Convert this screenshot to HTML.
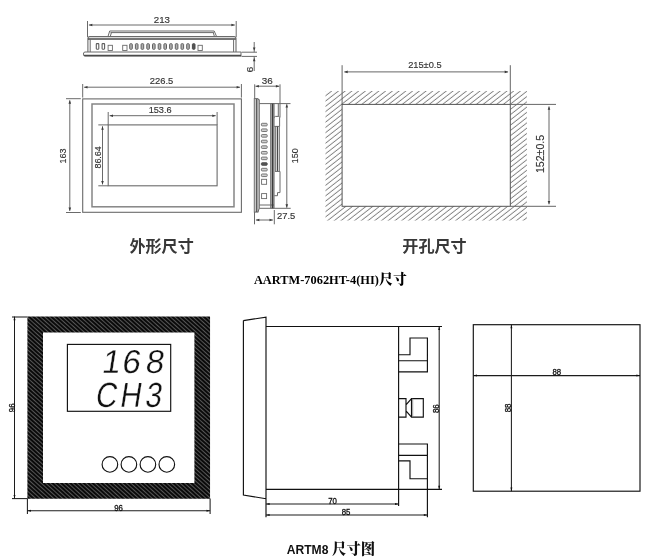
<!DOCTYPE html>
<html lang="zh-CN"><head><meta charset="utf-8"><title>AARTM-7062HT-4(HI)尺寸 / ARTM8 尺寸图</title>
<style>
html,body{margin:0;padding:0;background:#fff;}
body{width:647px;height:560px;overflow:hidden;}
svg{display:block;will-change:transform;opacity:0.999;}
</style></head><body>
<svg width="647" height="560" viewBox="0 0 647 560">
<defs>
<pattern id="hatch" width="4.15" height="4.15" patternUnits="userSpaceOnUse" patternTransform="rotate(-38)">
<line x1="0" y1="2" x2="4.15" y2="2" stroke="#6e6e6e" stroke-width="0.8"/>
</pattern>
<pattern id="fr" width="3" height="3" patternUnits="userSpaceOnUse" patternTransform="rotate(42)">
<rect width="3" height="3" fill="#0a0a0a"/>
<line x1="0" y1="1.5" x2="3" y2="1.5" stroke="#8a8a8a" stroke-width="0.6"/>
</pattern>
<clipPath id="cut"><path clip-rule="evenodd" d="M325.5 91.1H526.9V220.5H325.5Z M342.1 104.4V206.3H510.3V104.4Z"/></clipPath>
</defs>
<rect width="647" height="560" fill="#fff"/>

<g id="topview" fill="none">
<line x1="87.5" y1="21" x2="87.5" y2="37" stroke="#6a6a6a" stroke-width="1" />
<line x1="236.2" y1="21" x2="236.2" y2="37" stroke="#6a6a6a" stroke-width="1" />
<line x1="88.9" y1="25" x2="234.79999999999998" y2="25" stroke="#6a6a6a" stroke-width="1" />
<polygon points="88.9,25.0 92.3,23.7 92.3,26.3" fill="#3a3a3a"/>
<polygon points="234.8,25.0 231.4,23.7 231.4,26.3" fill="#3a3a3a"/>
<text x="153.75" y="23.3" font-size="9.6" fill="#333" stroke="#333" stroke-width="0.15" textLength="16.20" lengthAdjust="spacingAndGlyphs" font-family='"Liberation Sans", sans-serif'>213</text>
<path d="M107.9 36.8L109.7 31H214.2L216.7 36.8" stroke="#6a6a6a" stroke-width="1"/>
<line x1="110.5" y1="32.6" x2="213.8" y2="32.6" stroke="#6a6a6a" stroke-width="1" />
<line x1="111.4" y1="32.6" x2="110.2" y2="36.8" stroke="#6a6a6a" stroke-width="1" />
<line x1="213.3" y1="32.6" x2="214.5" y2="36.8" stroke="#6a6a6a" stroke-width="1" />
<path d="M87.9 52V38.6Q87.9 36.6 89.9 36.6H234Q236 36.6 236 38.6V52" stroke="#6a6a6a" stroke-width="1.1"/>
<line x1="88" y1="39" x2="235.8" y2="39" stroke="#4a4a4a" stroke-width="1.3" />
<line x1="90.2" y1="39" x2="90.2" y2="52" stroke="#6a6a6a" stroke-width="1" />
<line x1="233.6" y1="39" x2="233.6" y2="52" stroke="#6a6a6a" stroke-width="1" />
<path d="M85 52H241V56.2H85Q83.4 56.2 83.4 54.1Q83.4 52 85 52Z" stroke="#6a6a6a" stroke-width="1"/>
<line x1="84" y1="55.4" x2="241" y2="55.4" stroke="#4a4a4a" stroke-width="1.2" />
<rect x="96.3" y="43.6" width="2.5" height="5.6" fill="none" stroke="#5e5e5e" stroke-width="1.1" rx="0.6"/>
<rect x="102.1" y="43.6" width="2.5" height="5.6" fill="none" stroke="#5e5e5e" stroke-width="1.1" rx="0.6"/>
<rect x="108.1" y="45.3" width="4.3" height="5.2" fill="none" stroke="#6a6a6a" stroke-width="0.9"/>
<rect x="122.7" y="45.3" width="4.3" height="5.2" fill="none" stroke="#6a6a6a" stroke-width="0.9"/>
<rect x="198" y="45.3" width="4.3" height="5.2" fill="none" stroke="#6a6a6a" stroke-width="0.9"/>
<rect x="129.7" y="43.7" width="2.6" height="5.6" fill="#b0b0b0" stroke="#606060" stroke-width="1.0" rx="0.8"/>
<rect x="135.39999999999998" y="43.7" width="2.6" height="5.6" fill="#b0b0b0" stroke="#606060" stroke-width="1.0" rx="0.8"/>
<rect x="141.09999999999997" y="43.7" width="2.6" height="5.6" fill="#b0b0b0" stroke="#606060" stroke-width="1.0" rx="0.8"/>
<rect x="146.79999999999995" y="43.7" width="2.6" height="5.6" fill="#b0b0b0" stroke="#606060" stroke-width="1.0" rx="0.8"/>
<rect x="152.49999999999994" y="43.7" width="2.6" height="5.6" fill="#b0b0b0" stroke="#606060" stroke-width="1.0" rx="0.8"/>
<rect x="158.19999999999993" y="43.7" width="2.6" height="5.6" fill="#b0b0b0" stroke="#606060" stroke-width="1.0" rx="0.8"/>
<rect x="163.89999999999992" y="43.7" width="2.6" height="5.6" fill="#b0b0b0" stroke="#606060" stroke-width="1.0" rx="0.8"/>
<rect x="169.5999999999999" y="43.7" width="2.6" height="5.6" fill="#b0b0b0" stroke="#606060" stroke-width="1.0" rx="0.8"/>
<rect x="175.2999999999999" y="43.7" width="2.6" height="5.6" fill="#b0b0b0" stroke="#606060" stroke-width="1.0" rx="0.8"/>
<rect x="180.9999999999999" y="43.7" width="2.6" height="5.6" fill="#b0b0b0" stroke="#606060" stroke-width="1.0" rx="0.8"/>
<rect x="186.69999999999987" y="43.7" width="2.6" height="5.6" fill="#b0b0b0" stroke="#606060" stroke-width="1.0" rx="0.8"/>
<rect x="192.39999999999986" y="43.7" width="2.6" height="5.6" fill="#555" stroke="#4a4a4a" stroke-width="1.0" rx="0.8"/>
<line x1="241.5" y1="52.2" x2="257" y2="52.2" stroke="#6a6a6a" stroke-width="1" />
<line x1="241.5" y1="56.4" x2="257" y2="56.4" stroke="#6a6a6a" stroke-width="1" />
<line x1="254.2" y1="42" x2="254.2" y2="52.2" stroke="#6a6a6a" stroke-width="1" />
<polygon points="254.2,50.8 252.9,47.4 255.5,47.4" fill="#3a3a3a"/>
<line x1="254.2" y1="56.4" x2="254.2" y2="71" stroke="#6a6a6a" stroke-width="1" />
<polygon points="254.2,57.8 252.9,61.2 255.5,61.2" fill="#3a3a3a"/>
<text transform="translate(253.0 69.6) rotate(-90)" x="-2.90" y="0" font-size="9.6" fill="#333" stroke="#333" stroke-width="0.15" textLength="5.80" lengthAdjust="spacingAndGlyphs" font-family='"Liberation Sans", sans-serif'>6</text>
</g>
<g id="front" fill="none">
<rect x="82.7" y="98.9" width="158.7" height="113.4" fill="none" stroke="#6a6a6a" stroke-width="1.1"/>
<rect x="92.0" y="104" width="142.0" height="102.8" fill="none" stroke="#858585" stroke-width="1.5"/>
<rect x="108.2" y="124.9" width="108.9" height="60.9" fill="none" stroke="#6a6a6a" stroke-width="1.1"/>
<line x1="82.7" y1="84" x2="82.7" y2="97.6" stroke="#6a6a6a" stroke-width="1" />
<line x1="241.4" y1="84" x2="241.4" y2="97.6" stroke="#6a6a6a" stroke-width="1" />
<line x1="84.10000000000001" y1="87.2" x2="240.0" y2="87.2" stroke="#6a6a6a" stroke-width="1" />
<polygon points="84.1,87.2 87.5,85.9 87.5,88.5" fill="#3a3a3a"/>
<polygon points="240.0,87.2 236.6,85.9 236.6,88.5" fill="#3a3a3a"/>
<text x="149.85" y="84.3" font-size="9.6" fill="#333" stroke="#333" stroke-width="0.15" textLength="23.50" lengthAdjust="spacingAndGlyphs" font-family='"Liberation Sans", sans-serif'>226.5</text>
<line x1="108.2" y1="112" x2="108.2" y2="124.9" stroke="#6a6a6a" stroke-width="1" />
<line x1="217.1" y1="112" x2="217.1" y2="124.9" stroke="#6a6a6a" stroke-width="1" />
<line x1="109.60000000000001" y1="115.7" x2="215.7" y2="115.7" stroke="#6a6a6a" stroke-width="1" />
<polygon points="109.6,115.7 113.0,114.4 113.0,117.0" fill="#3a3a3a"/>
<polygon points="215.7,115.7 212.3,114.4 212.3,117.0" fill="#3a3a3a"/>
<text x="148.65" y="112.7" font-size="9.6" fill="#333" stroke="#333" stroke-width="0.15" textLength="23.00" lengthAdjust="spacingAndGlyphs" font-family='"Liberation Sans", sans-serif'>153.6</text>
<line x1="66" y1="98.7" x2="80.8" y2="98.7" stroke="#6a6a6a" stroke-width="1" />
<line x1="66" y1="212.5" x2="80.8" y2="212.5" stroke="#6a6a6a" stroke-width="1" />
<line x1="69.8" y1="100.30000000000001" x2="69.8" y2="210.9" stroke="#6a6a6a" stroke-width="1" />
<polygon points="69.8,100.3 68.5,103.7 71.1,103.7" fill="#3a3a3a"/>
<polygon points="69.8,210.9 68.5,207.5 71.1,207.5" fill="#3a3a3a"/>
<text transform="translate(65.8 156.1) rotate(-90)" x="-7.45" y="0" font-size="9.6" fill="#333" stroke="#333" stroke-width="0.15" textLength="14.90" lengthAdjust="spacingAndGlyphs" font-family='"Liberation Sans", sans-serif'>163</text>
<line x1="98.3" y1="124.9" x2="108.2" y2="124.9" stroke="#6a6a6a" stroke-width="1" />
<line x1="98.3" y1="185.8" x2="108.2" y2="185.8" stroke="#6a6a6a" stroke-width="1" />
<line x1="102.5" y1="126.30000000000001" x2="102.5" y2="184.4" stroke="#6a6a6a" stroke-width="1" />
<polygon points="102.5,126.3 101.2,129.7 103.8,129.7" fill="#3a3a3a"/>
<polygon points="102.5,184.4 101.2,181.0 103.8,181.0" fill="#3a3a3a"/>
<text transform="translate(101.0 157.4) rotate(-90)" x="-11.20" y="0" font-size="9.6" fill="#333" stroke="#333" stroke-width="0.15" textLength="22.40" lengthAdjust="spacingAndGlyphs" font-family='"Liberation Sans", sans-serif'>86.64</text>
</g>
<g id="side" fill="none">
<line x1="254.7" y1="84.3" x2="254.7" y2="98.6" stroke="#6a6a6a" stroke-width="1" />
<line x1="280.0" y1="84.3" x2="280.0" y2="117.5" stroke="#6a6a6a" stroke-width="1" />
<line x1="255.5" y1="86.2" x2="279.3" y2="86.2" stroke="#6a6a6a" stroke-width="1" />
<polygon points="255.5,86.2 258.9,84.9 258.9,87.5" fill="#3a3a3a"/>
<polygon points="279.3,86.2 275.9,84.9 275.9,87.5" fill="#3a3a3a"/>
<text x="261.85" y="84.0" font-size="9.6" fill="#333" stroke="#333" stroke-width="0.15" textLength="11.00" lengthAdjust="spacingAndGlyphs" font-family='"Liberation Sans", sans-serif'>36</text>
<rect x="254.3" y="98.6" width="3.6" height="113.5" fill="none" stroke="#6a6a6a" stroke-width="1"/>
<line x1="256.3" y1="99" x2="256.3" y2="212" stroke="#4a4a4a" stroke-width="1.2" />
<line x1="257.9" y1="99.6" x2="259.3" y2="99.6" stroke="#6a6a6a" stroke-width="1" />
<line x1="259.3" y1="99.6" x2="259.3" y2="208.3" stroke="#6a6a6a" stroke-width="1" />
<line x1="257.9" y1="212.1" x2="259.3" y2="208.3" stroke="#6a6a6a" stroke-width="1" />
<line x1="259.3" y1="103.6" x2="290.5" y2="103.6" stroke="#6a6a6a" stroke-width="1" />
<line x1="259.3" y1="208.3" x2="290.7" y2="208.3" stroke="#6a6a6a" stroke-width="1" />
<line x1="259.3" y1="205" x2="273.9" y2="205" stroke="#6a6a6a" stroke-width="1" />
<line x1="270.7" y1="103.6" x2="270.7" y2="208.3" stroke="#6a6a6a" stroke-width="1" />
<line x1="272.6" y1="103.6" x2="272.6" y2="208.3" stroke="#3c3c3c" stroke-width="2" />
<line x1="274.2" y1="103.6" x2="274.2" y2="208.3" stroke="#6a6a6a" stroke-width="0.8" />
<line x1="278.3" y1="103.6" x2="278.3" y2="116.4" stroke="#6a6a6a" stroke-width="1" />
<path d="M274.3 117.6Q274.3 116.4 275.5 116.4H278.4Q279.6 116.4 279.6 117.6V126.4H274.3" stroke="#6a6a6a" stroke-width="1"/>
<line x1="275.7" y1="126.4" x2="275.7" y2="171.4" stroke="#6a6a6a" stroke-width="1" />
<line x1="277.5" y1="126.4" x2="277.5" y2="171.4" stroke="#4a4a4a" stroke-width="1.2" />
<line x1="279.3" y1="126.4" x2="279.3" y2="171.4" stroke="#6a6a6a" stroke-width="1" />
<path d="M275 171.4H280V192.6H277.5V195.7H274.3" stroke="#6a6a6a" stroke-width="1"/>
<rect x="261.4" y="123.3" width="5.8" height="2.6" fill="#d0d0d0" stroke="#6a6a6a" stroke-width="0.9" rx="0.8"/>
<rect x="261.4" y="128.92999999999998" width="5.8" height="2.6" fill="#d0d0d0" stroke="#6a6a6a" stroke-width="0.9" rx="0.8"/>
<rect x="261.4" y="134.55999999999997" width="5.8" height="2.6" fill="#d0d0d0" stroke="#6a6a6a" stroke-width="0.9" rx="0.8"/>
<rect x="261.4" y="140.18999999999997" width="5.8" height="2.6" fill="#d0d0d0" stroke="#6a6a6a" stroke-width="0.9" rx="0.8"/>
<rect x="261.4" y="145.81999999999996" width="5.8" height="2.6" fill="#d0d0d0" stroke="#6a6a6a" stroke-width="0.9" rx="0.8"/>
<rect x="261.4" y="151.44999999999996" width="5.8" height="2.6" fill="#d0d0d0" stroke="#6a6a6a" stroke-width="0.9" rx="0.8"/>
<rect x="261.4" y="157.07999999999996" width="5.8" height="2.6" fill="#d0d0d0" stroke="#6a6a6a" stroke-width="0.9" rx="0.8"/>
<rect x="261.4" y="162.70999999999995" width="5.8" height="2.6" fill="#555" stroke="#4a4a4a" stroke-width="0.9" rx="0.8"/>
<rect x="261.4" y="168.33999999999995" width="5.8" height="2.6" fill="#d0d0d0" stroke="#6a6a6a" stroke-width="0.9" rx="0.8"/>
<rect x="261.4" y="173.96999999999994" width="5.8" height="2.6" fill="#d0d0d0" stroke="#6a6a6a" stroke-width="0.9" rx="0.8"/>
<rect x="261.6" y="179.3" width="5" height="5" fill="none" stroke="#6a6a6a" stroke-width="0.9"/>
<rect x="261.6" y="193.6" width="5" height="5" fill="none" stroke="#6a6a6a" stroke-width="0.9"/>
<line x1="286.8" y1="104.19999999999999" x2="286.8" y2="207.70000000000002" stroke="#6a6a6a" stroke-width="1" />
<polygon points="286.8,104.2 285.5,107.6 288.1,107.6" fill="#3a3a3a"/>
<polygon points="286.8,207.7 285.5,204.3 288.1,204.3" fill="#3a3a3a"/>
<text transform="translate(298.1 155.8) rotate(-90)" x="-7.40" y="0" font-size="9.6" fill="#333" stroke="#333" stroke-width="0.15" textLength="14.80" lengthAdjust="spacingAndGlyphs" font-family='"Liberation Sans", sans-serif'>150</text>
<line x1="254.5" y1="212" x2="254.5" y2="224.3" stroke="#6a6a6a" stroke-width="1" />
<line x1="274.3" y1="210" x2="274.3" y2="224.3" stroke="#6a6a6a" stroke-width="1" />
<line x1="255.9" y1="220" x2="272.90000000000003" y2="220" stroke="#6a6a6a" stroke-width="1" />
<polygon points="255.9,220.0 259.3,218.7 259.3,221.3" fill="#3a3a3a"/>
<polygon points="272.9,220.0 269.5,218.7 269.5,221.3" fill="#3a3a3a"/>
<text x="277.05" y="218.6" font-size="9.6" fill="#333" stroke="#333" stroke-width="0.15" textLength="18.30" lengthAdjust="spacingAndGlyphs" font-family='"Liberation Sans", sans-serif'>27.5</text>
</g>
<g id="cutout" fill="none">
<rect x="320" y="88" width="212" height="136" fill="url(#hatch)" clip-path="url(#cut)"/>
<rect x="342.1" y="104.4" width="168.2" height="101.9" fill="none" stroke="#555" stroke-width="1.0"/>
<line x1="342.1" y1="65.2" x2="342.1" y2="104" stroke="#666" stroke-width="1" />
<line x1="510.3" y1="65.2" x2="510.3" y2="104" stroke="#666" stroke-width="1" />
<line x1="344.3" y1="71.9" x2="508.1" y2="71.9" stroke="#666" stroke-width="1" />
<polygon points="344.3,71.9 347.7,70.6 347.7,73.2" fill="#3a3a3a"/>
<polygon points="508.1,71.9 504.7,70.6 504.7,73.2" fill="#3a3a3a"/>
<text x="408.15" y="67.8" font-size="9.6" fill="#333" stroke="#333" stroke-width="0.15" textLength="33.40" lengthAdjust="spacingAndGlyphs" font-family='"Liberation Sans", sans-serif'>215±0.5</text>
<line x1="510.3" y1="104.4" x2="556" y2="104.4" stroke="#666" stroke-width="1" />
<line x1="510.3" y1="206.3" x2="556" y2="206.3" stroke="#666" stroke-width="1" />
<line x1="549" y1="106.4" x2="549" y2="204.3" stroke="#666" stroke-width="1" />
<polygon points="549.0,106.4 547.7,109.8 550.3,109.8" fill="#3a3a3a"/>
<polygon points="549.0,204.3 547.7,200.9 550.3,200.9" fill="#3a3a3a"/>
<text transform="translate(544.1 153.95) rotate(-90)" x="-19.10" y="0" font-size="10.5" fill="#333" stroke="#333" stroke-width="0.15" textLength="38.20" lengthAdjust="spacingAndGlyphs" font-family='"Liberation Sans", sans-serif'>152±0.5</text>
</g>
<text x="161.6" y="252.4" font-size="16.1" fill="#383838" stroke="#383838" stroke-width="0" text-anchor="middle" font-family='"Liberation Sans", "Noto Sans CJK SC", sans-serif' font-weight="bold" >外形尺寸</text>
<text x="434.5" y="252.0" font-size="16.1" fill="#383838" stroke="#383838" stroke-width="0" text-anchor="middle" font-family='"Liberation Sans", "Noto Sans CJK SC", sans-serif' font-weight="bold" >开孔尺寸</text>
<text x="253.9" y="283.6" font-size="13.4" fill="#000" font-weight="bold" font-family='"Liberation Serif", "Noto Serif CJK SC", serif'><tspan textLength="125" lengthAdjust="spacingAndGlyphs">AARTM-7062HT-4(HI)</tspan><tspan font-size="14" font-weight="900">尺寸</tspan></text>
<text x="286.7" y="554" font-size="13.5" fill="#111" font-weight="bold" font-family='"Liberation Sans", "Noto Serif CJK SC", sans-serif'><tspan textLength="41.7" lengthAdjust="spacingAndGlyphs">ARTM8</tspan><tspan font-size="14.4" font-weight="900" font-family='"Liberation Serif", "Noto Serif CJK SC", serif'> 尺寸图</tspan></text>
<g id="a8front">
<path fill-rule="evenodd" fill="url(#fr)" d="M27.4 316.6H210.05V498.8H27.4Z M43 332.5V483H194.4V332.5Z"/>
<rect x="67.4" y="344.4" width="103.3" height="66.9" fill="#fff" stroke="#111" stroke-width="1.15"/>
<circle cx="109.9" cy="464.4" r="7.8" fill="none" stroke="#111" stroke-width="1.15"/>
<circle cx="128.9" cy="464.4" r="7.8" fill="none" stroke="#111" stroke-width="1.15"/>
<circle cx="147.9" cy="464.4" r="7.8" fill="none" stroke="#111" stroke-width="1.15"/>
<circle cx="166.8" cy="464.4" r="7.8" fill="none" stroke="#111" stroke-width="1.15"/>
<text transform="translate(101.0 373.4) skewX(-9) scale(1.0 1)" x="0.0 20.0 43.5" y="0" font-size="33" fill="#111" stroke="#fff" stroke-width="0.3" font-family='"Liberation Sans", sans-serif'>168</text>
<text transform="translate(94.6 406.8) skewX(-9) scale(0.84 1)" x="0.0 29.0 59.0" y="0" font-size="35" fill="#111" stroke="#fff" stroke-width="0.3" font-family='"Liberation Sans", sans-serif'>CH3</text>
<line x1="12" y1="317.0" x2="27.4" y2="317.0" stroke="#1c1c1c" stroke-width="1.05" />
<line x1="12" y1="498.6" x2="27.4" y2="498.6" stroke="#1c1c1c" stroke-width="1.05" />
<line x1="14.5" y1="316.6" x2="14.5" y2="498.6" stroke="#1c1c1c" stroke-width="1.05" />
<polygon points="14.5,316.6 13.5,320.2 15.5,320.2" fill="#111"/>
<polygon points="14.5,498.6 13.5,495.0 15.5,495.0" fill="#111"/>
<text x="14.6" y="407.8" font-size="8.7" fill="#111" stroke="#111" stroke-width="0.3" text-anchor="middle" font-family='"Liberation Sans", sans-serif' font-weight="normal" transform="rotate(-90 14.6 407.8)" textLength="8.7" lengthAdjust="spacingAndGlyphs">96</text>
<line x1="27.4" y1="498.6" x2="27.4" y2="514" stroke="#1c1c1c" stroke-width="1.05" />
<line x1="210.1" y1="498.6" x2="210.1" y2="514" stroke="#1c1c1c" stroke-width="1.05" />
<line x1="27.4" y1="510.7" x2="210.1" y2="510.7" stroke="#1c1c1c" stroke-width="1.05" />
<polygon points="27.4,510.7 31.0,509.7 31.0,511.7" fill="#111"/>
<polygon points="210.1,510.7 206.5,509.7 206.5,511.7" fill="#111"/>
<text x="118.6" y="510.6" font-size="8.7" fill="#111" stroke="#111" stroke-width="0.3" text-anchor="middle" font-family='"Liberation Sans", sans-serif' font-weight="normal" textLength="8.7" lengthAdjust="spacingAndGlyphs">96</text>
</g>
<g id="a8side" fill="none">
<path d="M243.4 320.6L266 317.1V517.2M266 498.7L243.4 495V320.6" stroke="#111" stroke-width="1.15"/>
<line x1="266" y1="326.5" x2="442" y2="326.5" stroke="#111" stroke-width="1.15" />
<line x1="266" y1="489.3" x2="442" y2="489.3" stroke="#111" stroke-width="1.15" />
<line x1="398.6" y1="326.5" x2="398.6" y2="506" stroke="#111" stroke-width="1.15" />
<path d="M398.6 354.7H410V338H427.4V371.8H398.6M398.6 360.75H427.4" stroke="#111" stroke-width="1.15"/>
<path d="M398.6 444H427.4V517.3M398.6 455.4H427.4M398.6 460.8H410V478.7H427.4" stroke="#111" stroke-width="1.15"/>
<path d="M398.6 398.6H406V417.1H398.6M406 404.8L411.5 398.6H423.3V417.1H411.5L406 410.9M411.5 398.6V417.1" stroke="#111" stroke-width="1.15"/>
<line x1="412.7" y1="398.6" x2="412.7" y2="417.1" stroke="#777" stroke-width="0.7" />
<line x1="439.2" y1="326.5" x2="439.2" y2="489.3" stroke="#1c1c1c" stroke-width="1.05" />
<polygon points="439.2,326.5 438.2,330.1 440.2,330.1" fill="#111"/>
<polygon points="439.2,489.3 438.2,485.7 440.2,485.7" fill="#111"/>
<text x="439.4" y="408.7" font-size="8.7" fill="#111" stroke="#111" stroke-width="0.3" text-anchor="middle" font-family='"Liberation Sans", sans-serif' font-weight="normal" transform="rotate(-90 439.4 408.7)" textLength="8.7" lengthAdjust="spacingAndGlyphs">86</text>
<line x1="266" y1="504" x2="398.6" y2="504" stroke="#1c1c1c" stroke-width="1.05" />
<polygon points="266.0,504.0 269.6,503.0 269.6,505.0" fill="#111"/>
<polygon points="398.6,504.0 395.0,503.0 395.0,505.0" fill="#111"/>
<text x="332.6" y="503.8" font-size="8.7" fill="#111" stroke="#111" stroke-width="0.3" text-anchor="middle" font-family='"Liberation Sans", sans-serif' font-weight="normal" textLength="8.7" lengthAdjust="spacingAndGlyphs">70</text>
<line x1="266" y1="514.9" x2="427.4" y2="514.9" stroke="#1c1c1c" stroke-width="1.05" />
<polygon points="266.0,514.9 269.6,513.9 269.6,515.9" fill="#111"/>
<polygon points="427.4,514.9 423.8,513.9 423.8,515.9" fill="#111"/>
<text x="346.1" y="514.7" font-size="8.7" fill="#111" stroke="#111" stroke-width="0.3" text-anchor="middle" font-family='"Liberation Sans", sans-serif' font-weight="normal" textLength="8.7" lengthAdjust="spacingAndGlyphs">85</text>
</g>
<g id="a8cut" fill="none">
<rect x="473.3" y="324.7" width="166.7" height="166.5" fill="none" stroke="#111" stroke-width="1.15"/>
<line x1="473.3" y1="375.6" x2="640" y2="375.6" stroke="#1c1c1c" stroke-width="1.05" />
<polygon points="473.3,375.6 476.9,374.6 476.9,376.6" fill="#111"/>
<polygon points="640.0,375.6 636.4,374.6 636.4,376.6" fill="#111"/>
<text x="556.8" y="375.1" font-size="8.7" fill="#111" stroke="#111" stroke-width="0.3" text-anchor="middle" font-family='"Liberation Sans", sans-serif' font-weight="normal" textLength="8.7" lengthAdjust="spacingAndGlyphs">88</text>
<line x1="511.4" y1="324.7" x2="511.4" y2="491.2" stroke="#1c1c1c" stroke-width="1.05" />
<polygon points="511.4,324.7 510.4,328.3 512.4,328.3" fill="#111"/>
<polygon points="511.4,491.2 510.4,487.6 512.4,487.6" fill="#111"/>
<text x="511.3" y="408" font-size="8.7" fill="#111" stroke="#111" stroke-width="0.3" text-anchor="middle" font-family='"Liberation Sans", sans-serif' font-weight="normal" transform="rotate(-90 511.3 408)" textLength="8.7" lengthAdjust="spacingAndGlyphs">88</text>
</g>
</svg>
</body></html>
